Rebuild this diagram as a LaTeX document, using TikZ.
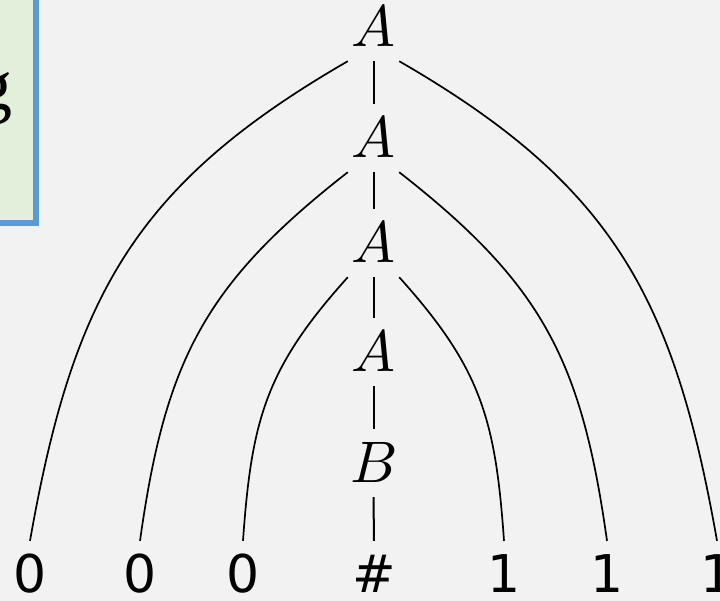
\documentclass[tikz,border=0pt]{standalone}
\usepackage{fontspec}
\usepackage{unicode-math}
\setmathfont{Latin Modern Math}
\newfontfamily\leaffont{DejaVu Sans}
\newfontfamily\notefont{Liberation Serif}
\definecolor{pagebg}{HTML}{F2F2F2}
\definecolor{notefill}{HTML}{E2EFDA}
\definecolor{noteline}{HTML}{5B9BD5}
\begin{document}
\begin{tikzpicture}[x=1pt,y=1pt,
  inner/.style={font=\fontsize{58.6}{70}\selectfont, anchor=base,
    inner xsep=0pt, inner ysep=14pt, minimum width=51pt,
    text height=40pt, text depth=0pt},
  leaf/.style={font=\leaffont\fontsize{52}{62}\selectfont, anchor=base,
    inner xsep=0pt, inner ysep=14pt, text height=38pt, text depth=0pt},
  branch/.style={line width=1.7pt, looseness=1.1},
  stem/.style={line width=2pt}]
  % page
  \fill[pagebg] (0,0) rectangle (720,601);
  \useasboundingbox (0,0) rectangle (720,601);
  \clip (0,0) rectangle (720,601);

  % note box at the upper left
  \draw[fill=notefill, draw=noteline, line width=6pt] (-20,378) rectangle (36,620);
  \node[font=\notefont\fontsize{72}{86}\selectfont, anchor=base east, inner sep=0pt]
    (note) at (13,491) {g};

  % spine of the derivation
  \node[inner] (a1) at (373.5,554) {$A$};
  \node[inner] (a2) at (373.5,443) {$A$};
  \node[inner] (a3) at (373.5,338) {$A$};
  \node[inner] (a4) at (373.5,229) {$A$};
  \node[inner] (b)  at (373.5,118) {$B$};

  % terminal symbols
  \node[leaf] (l1) at (30,8)  {0};
  \node[leaf] (l2) at (140,8) {0};
  \node[leaf] (l3) at (243,8) {0};
  \node[leaf] (h)  at (374,8) {\#};
  \node[leaf] (r3) at (504,8) {1};
  \node[leaf] (r2) at (607,8) {1};
  \node[leaf] (r1) at (717,8) {1};

  % vertical edges
  \draw[stem] (a1.south) -- (a2.north);
  \draw[stem] (a2.south) -- (a3.north);
  \draw[stem] (a3.south) -- (a4.north);
  \draw[stem] (a4.south) -- (b.north);
  \draw[stem] (b.south) -- (h.north);

  % curved edges to the terminals
  \draw[branch] (a1.south west) to[out=210, in=80]  (l1.north);
  \draw[branch] (a2.south west) to[out=218, in=82]  (l2.north);
  \draw[branch] (a3.south west) to[out=228, in=86]  (l3.north);
  \draw[branch] (a1.south east) to[out=-30, in=100] (r1.north);
  \draw[branch] (a2.south east) to[out=-38, in=98]  (r2.north);
  \draw[branch] (a3.south east) to[out=-48, in=94]  (r3.north);
\end{tikzpicture}
\end{document}
